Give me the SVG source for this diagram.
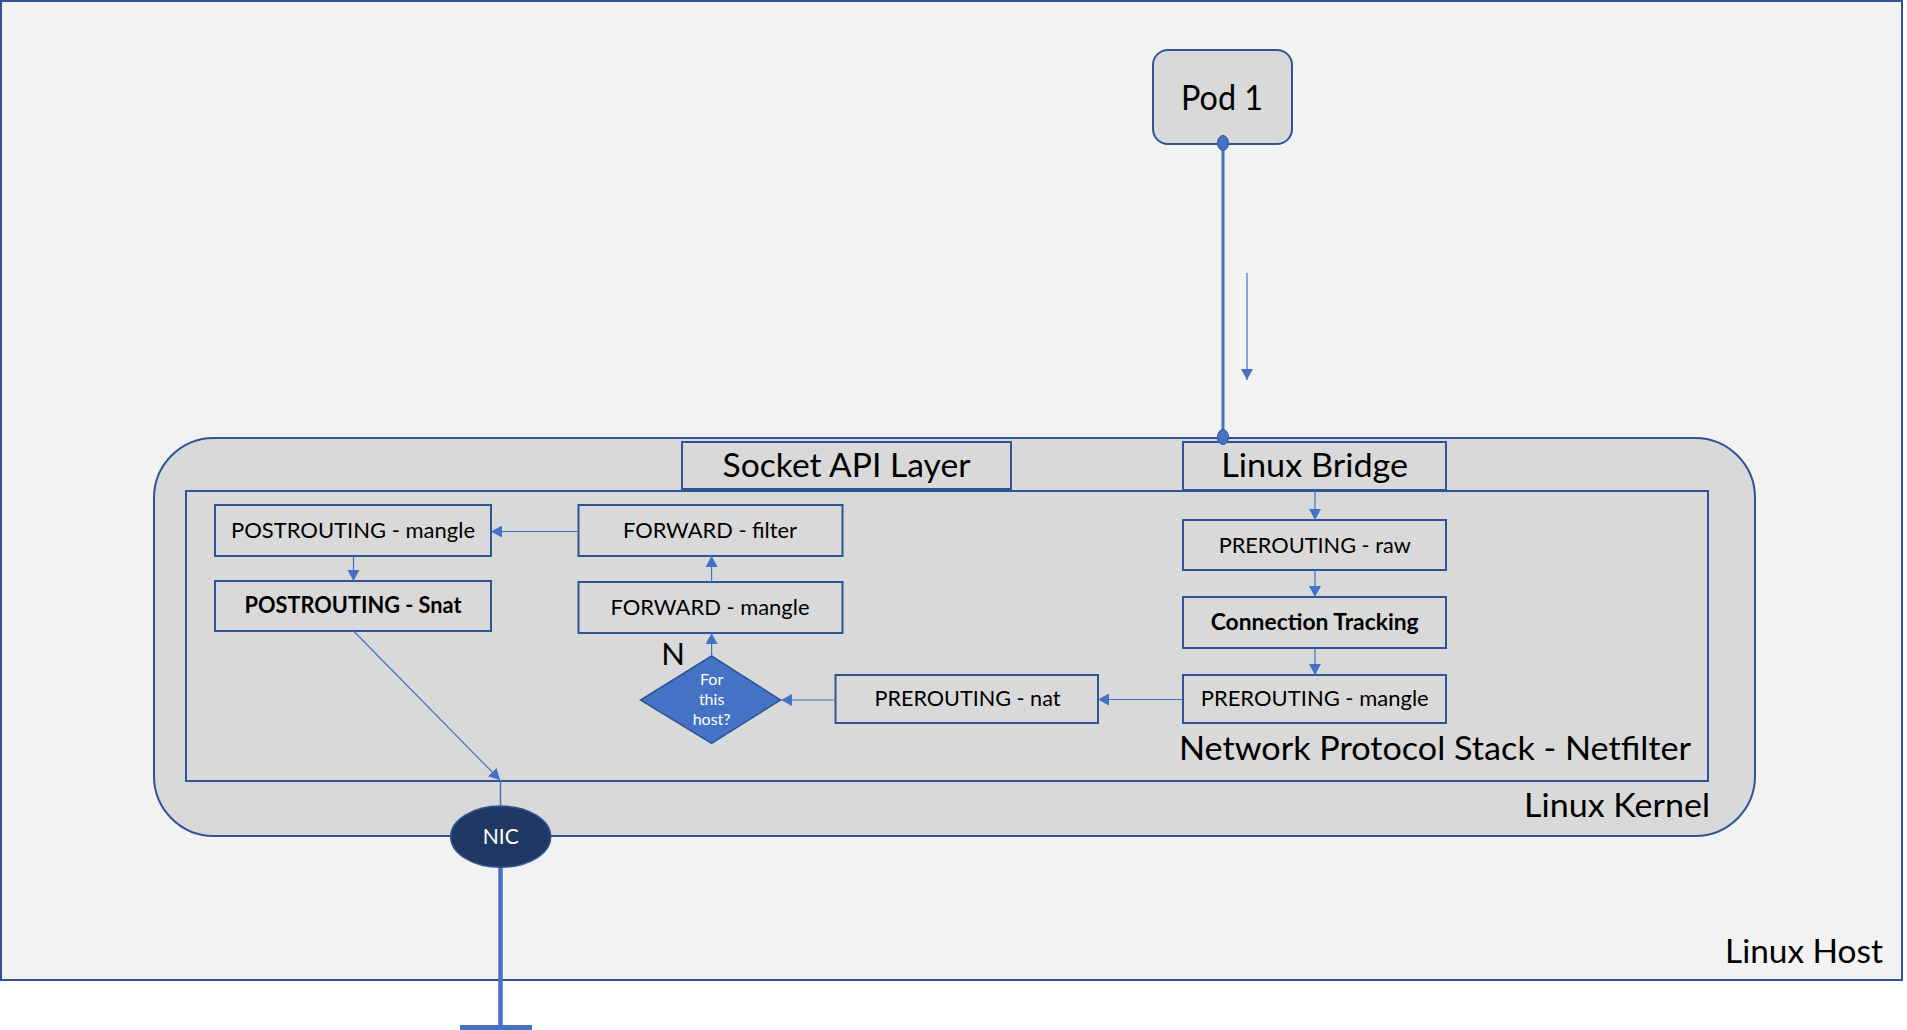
<svg xmlns="http://www.w3.org/2000/svg" width="1907" height="1030" viewBox="0 0 1907 1030">
<style>
text{font-family:Lato,"Open Sans","Liberation Sans",sans-serif;fill:#000}
.box{fill:#D9D9D9;stroke:#2F5597;stroke-width:2}
.lbl{font-size:22px;text-anchor:middle}
.b{font-weight:bold}
.conn{stroke:#4472C4;stroke-width:1.2;fill:none}
</style>
<defs>
<marker id="ah" markerUnits="userSpaceOnUse" markerWidth="12" markerHeight="12" refX="11" refY="6" orient="auto">
<path d="M0,0 L11,6 L0,12 Z" fill="#4472C4"/>
</marker>
</defs>
<g id="linux-host">
<rect x="1" y="1" width="1901" height="979" fill="#F2F2F2" stroke="#2F5597" stroke-width="2"/>
<text x="1883" y="963" font-size="33" text-anchor="end" textLength="158" lengthAdjust="spacingAndGlyphs">Linux Host</text>
</g>
<g id="linux-kernel">
<rect x="154" y="438" width="1601" height="398" rx="60" ry="60" fill="#D9D9D9" stroke="#2F5597" stroke-width="2"/>
<text x="1710" y="817" font-size="33" text-anchor="end" textLength="186" lengthAdjust="spacingAndGlyphs">Linux Kernel</text>
</g>
<g id="netfilter">
<rect x="186" y="491" width="1522" height="290" fill="#D9D9D9" stroke="#2F5597" stroke-width="2"/>
<text x="1691" y="760" font-size="32" text-anchor="end" textLength="512" lengthAdjust="spacingAndGlyphs">Network Protocol Stack - Netfilter</text>
</g>
<g id="socket-api">
<rect class="box" x="682" y="442" width="329" height="47"/>
<text x="846.5" y="477" font-size="32" text-anchor="middle" textLength="248" lengthAdjust="spacingAndGlyphs">Socket API Layer</text>
</g>
<g id="linux-bridge">
<rect class="box" x="1183" y="442" width="263" height="48"/>
<text x="1314.7" y="477" font-size="32" text-anchor="middle" textLength="187" lengthAdjust="spacingAndGlyphs">Linux Bridge</text>
</g>
<g id="pod1">
<rect class="box" x="1153" y="50" width="139" height="94" rx="15" ry="15"/>
<text x="1222" y="110" font-size="35" text-anchor="middle" textLength="82" lengthAdjust="spacingAndGlyphs">Pod 1</text>
</g>
<g id="postrouting-mangle">
<rect class="box" x="215" y="505" width="276" height="51"/>
<text class="lbl" x="353" y="538" textLength="244" lengthAdjust="spacingAndGlyphs">POSTROUTING - mangle</text>
</g>
<g id="postrouting-snat">
<rect class="box" x="215" y="581" width="276" height="50"/>
<text class="lbl b" x="353" y="613" textLength="217" lengthAdjust="spacingAndGlyphs">POSTROUTING - Snat</text>
</g>
<g id="forward-filter">
<rect class="box" x="578.5" y="505" width="264" height="51"/>
<text class="lbl" x="710" y="538" textLength="174" lengthAdjust="spacingAndGlyphs">FORWARD - filter</text>
</g>
<g id="forward-mangle">
<rect class="box" x="578.5" y="582" width="264" height="51"/>
<text class="lbl" x="710" y="615" textLength="199" lengthAdjust="spacingAndGlyphs">FORWARD - mangle</text>
</g>
<g id="prerouting-raw">
<rect class="box" x="1183" y="520" width="263" height="50"/>
<text class="lbl" x="1314.7" y="553" textLength="192" lengthAdjust="spacingAndGlyphs">PREROUTING - raw</text>
</g>
<g id="connection-tracking">
<rect class="box" x="1183" y="597" width="263" height="51"/>
<text class="lbl b" x="1314.7" y="630" textLength="208" lengthAdjust="spacingAndGlyphs">Connection Tracking</text>
</g>
<g id="prerouting-mangle">
<rect class="box" x="1183" y="675" width="263" height="48"/>
<text class="lbl" x="1314.7" y="706" textLength="228" lengthAdjust="spacingAndGlyphs">PREROUTING - mangle</text>
</g>
<g id="prerouting-nat">
<rect class="box" x="835.5" y="675" width="262.5" height="48"/>
<text class="lbl" x="967.5" y="706" textLength="186" lengthAdjust="spacingAndGlyphs">PREROUTING - nat</text>
</g>
<g id="for-this-host">
<polygon points="711.6,656 780.5,700 711.6,743.3 640.5,700" fill="#4472C4" stroke="#2F5597" stroke-width="1.5"/>
<text x="711.6" y="685" font-size="16" text-anchor="middle" style="fill:#fff">For</text>
<text x="711.6" y="705" font-size="16" text-anchor="middle" style="fill:#fff">this</text>
<text x="711.6" y="725" font-size="16" text-anchor="middle" style="fill:#fff">host?</text>
<text x="673" y="665" font-size="31" text-anchor="middle">N</text>
</g>
<g id="connectors">
<line x1="1223" y1="143" x2="1223" y2="437" stroke="#4472C4" stroke-width="3"/>
<ellipse cx="1223" cy="143" rx="5.5" ry="7.5" fill="#4472C4" stroke="#2F5597" stroke-width="1"/>
<ellipse cx="1223" cy="437" rx="5.5" ry="7.5" fill="#4472C4" stroke="#2F5597" stroke-width="1"/>
<line class="conn" x1="1247" y1="273" x2="1247" y2="380" marker-end="url(#ah)"/>
<line class="conn" x1="1315" y1="490" x2="1315" y2="520" marker-end="url(#ah)"/>
<line class="conn" x1="1315" y1="570" x2="1315" y2="597" marker-end="url(#ah)"/>
<line class="conn" x1="1315" y1="648" x2="1315" y2="675" marker-end="url(#ah)"/>
<line class="conn" x1="1183" y1="699.5" x2="1098" y2="699.5" marker-end="url(#ah)"/>
<line class="conn" x1="835.5" y1="700" x2="781" y2="700" marker-end="url(#ah)"/>
<line class="conn" x1="711.6" y1="656" x2="711.6" y2="633" marker-end="url(#ah)"/>
<line class="conn" x1="711.6" y1="582" x2="711.6" y2="556" marker-end="url(#ah)"/>
<line class="conn" x1="578.5" y1="531.5" x2="491" y2="531.5" marker-end="url(#ah)"/>
<line class="conn" x1="353.5" y1="556" x2="353.5" y2="581" marker-end="url(#ah)"/>
<line class="conn" x1="353.5" y1="631" x2="500" y2="780" marker-end="url(#ah)"/>
<line x1="500.5" y1="780" x2="500.5" y2="806" stroke="#4472C4" stroke-width="1.5"/>
<line x1="500.5" y1="867" x2="500.5" y2="1026" stroke="#4472C4" stroke-width="4.5"/>
<rect x="460" y="1025" width="72" height="5" fill="#4472C4"/>
</g>
<g id="nic">
<ellipse cx="500.7" cy="836.7" rx="50" ry="30.6" fill="#203864" stroke="#2F5597" stroke-width="1.5"/>
<text x="500.7" y="844" font-size="21" text-anchor="middle" style="fill:#fff">NIC</text>
</g>
</svg>
